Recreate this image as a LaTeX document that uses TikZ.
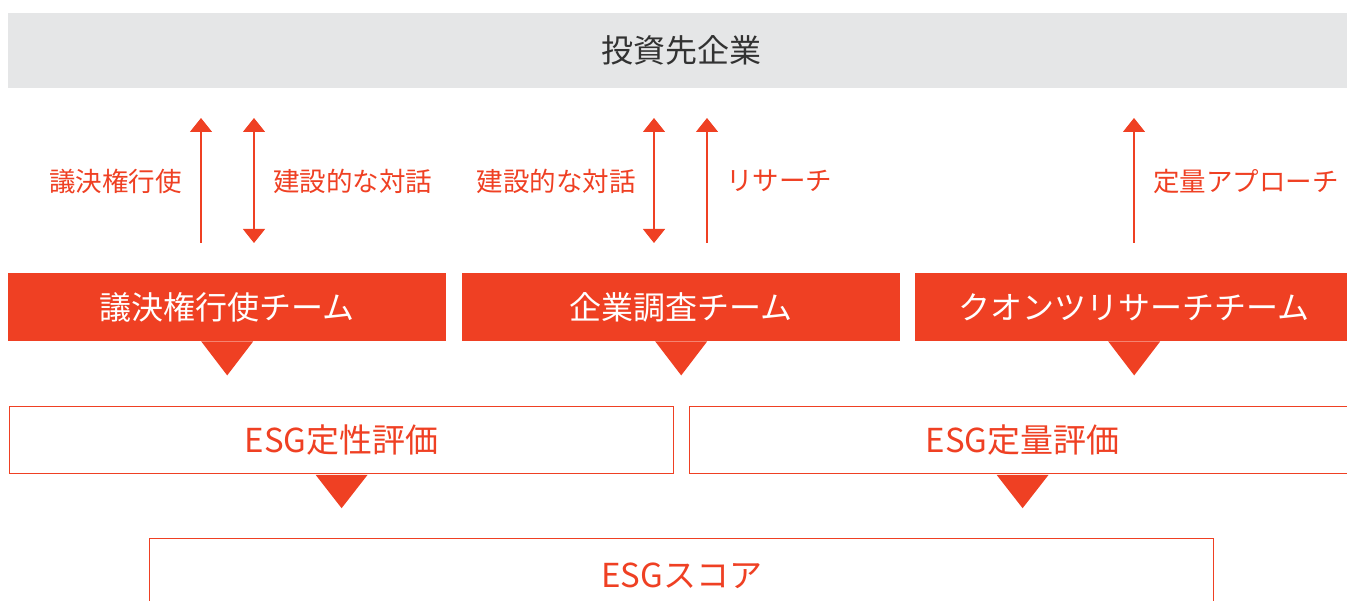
\documentclass[tikz,border=0pt]{standalone}
\usepackage{fontspec}
\setmainfont{Noto Sans CJK JP}
\usetikzlibrary{arrows.meta}
\definecolor{accent}{RGB}{239,64,35}
\definecolor{barbg}{RGB}{229,230,231}
\definecolor{txtdark}{RGB}{50,50,50}
\begin{document}
\begin{tikzpicture}[x=1pt,y=-1pt,
  redbox/.style={fill=accent,draw=none,inner sep=0pt},
  outbox/.style={draw=accent,line width=1.2pt,fill=white,inner sep=0pt},
  teamtxt/.style={text=white,font=\fontsize{32}{34}\selectfont},
  evaltxt/.style={text=accent,font=\fontsize{33}{35}\selectfont},
  lbl/.style={text=accent,font=\fontsize{26.5}{28}\selectfont,inner sep=0pt},
  uparr/.style={draw=accent,line width=1.3pt,-{Triangle[width=22pt,length=14pt]}},
  dblarr/.style={draw=accent,line width=1.3pt,{Triangle[width=22pt,length=14pt]}-{Triangle[width=22pt,length=14pt]}},
  tri/.style={fill=accent,draw=none}]
\useasboundingbox (0,0) rectangle (1347,601);
% top bar
\node[fill=barbg,minimum width=1346pt,minimum height=75pt,inner sep=0pt,anchor=north west,
      text=txtdark,font=\fontsize{32}{34}\selectfont] (top) at (8,13) {投資先企業};
% team boxes
\node[redbox,minimum width=438pt,minimum height=68pt,anchor=north west,teamtxt] (t1) at (8,273) {議決権行使チーム};
\node[redbox,minimum width=438pt,minimum height=68pt,anchor=north west,teamtxt] (t2) at (462,273) {企業調査チーム};
\node[redbox,minimum width=438pt,minimum height=68pt,anchor=north west,teamtxt] (t3) at (915,273) {クオンツリサーチチーム};
% triangles under team boxes
\foreach \n in {t1,t2,t3}{
  \fill[tri] ([xshift=-26pt]\n.south) -- ([xshift=26pt]\n.south) -- ([yshift=-34pt]\n.south) -- cycle;
}
% arrows
\coordinate (a1b) at (201,243); \coordinate (a1t) at (201,118);
\coordinate (a2b) at (254,243); \coordinate (a2t) at (254,118);
\coordinate (a3b) at (654,243); \coordinate (a3t) at (654,118);
\coordinate (a4b) at (707,243); \coordinate (a4t) at (707,118);
\coordinate (a5b) at (1134,243); \coordinate (a5t) at (1134,118);
\draw[uparr] (a1b) -- (a1t);
\draw[dblarr] (a2b) -- (a2t);
\draw[dblarr] (a3b) -- (a3t);
\draw[uparr] (a4b) -- (a4t);
\draw[uparr] (a5b) -- (a5t);
% labels
\node[lbl,anchor=east] (l1) at (182,181) {議決権行使};
\node[lbl,anchor=west] (l2) at (273,181) {建設的な対話};
\node[lbl,anchor=east] (l3) at (636,181) {建設的な対話};
\node[lbl,anchor=west] (l4) at (726,181) {リサーチ};
\node[lbl,anchor=west] (l5) at (1153,181) {定量アプローチ};
% evaluation boxes
\node[outbox,minimum width=664pt,minimum height=67pt,anchor=north west,evaltxt] (e1) at (9,406) {ESG定性評価};
\node[outbox,minimum width=666pt,minimum height=67pt,anchor=north west,evaltxt] (e2) at (689,406) {ESG定量評価};
\foreach \n in {e1,e2}{
  \fill[tri] ([xshift=-26pt,yshift=-0.6pt]\n.south) -- ([xshift=26pt,yshift=-0.6pt]\n.south) -- ([yshift=-34pt]\n.south) -- cycle;
}
% score box
\node[outbox,minimum width=1064pt,minimum height=75pt,anchor=north west,evaltxt] (s) at (149,538) {ESGスコア};
\end{tikzpicture}
\end{document}
